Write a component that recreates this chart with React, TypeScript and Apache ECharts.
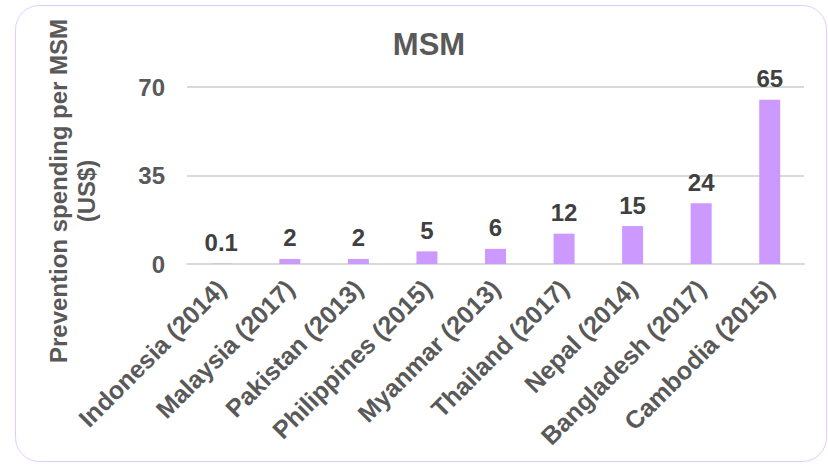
import React, { useEffect, useRef } from "react";
import * as echarts from "echarts";

// Prevention spending per MSM (US$), by country and survey year
const categories = [
  "Indonesia (2014)",
  "Malaysia (2017)",
  "Pakistan (2013)",
  "Philippines (2015)",
  "Myanmar (2013)",
  "Thailand (2017)",
  "Nepal (2014)",
  "Bangladesh (2017)",
  "Cambodia (2015)",
];
const spending = [0.1, 2, 2, 5, 6, 12, 15, 24, 65];
const yTicks = { min: 0, max: 70, interval: 35 };

const FONT = "'Liberation Sans', Arial, sans-serif";
const GREY = "#595959";

export default function App() {
  const ref = useRef<HTMLDivElement>(null);

  useEffect(() => {
    if (!ref.current) return;
    const chart = echarts.init(ref.current, null, { renderer: "svg" });
    chart.setOption({
      animation: false,
      backgroundColor: "#ffffff",
      title: {
        text: "MSM",
        left: 424,
        top: 24,
        textAlign: "center",
        textStyle: { fontFamily: FONT, fontSize: 31, fontWeight: "bold", color: GREY },
      },
      grid: { left: 187, right: 24, top: 87, bottom: 200, containLabel: false },
      xAxis: {
        type: "category",
        data: categories,
        axisLine: { show: true, lineStyle: { color: "#d9d9d9", width: 2 } },
        axisTick: { show: false },
        axisLabel: {
          rotate: 45,
          interval: 0,
          margin: 20,
          fontFamily: FONT,
          fontSize: 25,
          fontWeight: "bold",
          color: GREY,
        },
      },
      yAxis: {
        type: "value",
        min: yTicks.min,
        max: yTicks.max,
        interval: yTicks.interval,
        axisLine: { show: false },
        axisTick: { show: false },
        splitLine: { lineStyle: { color: "#d9d9d9", width: 2 } },
        axisLabel: {
          margin: 22,
          fontFamily: FONT,
          fontSize: 24,
          fontWeight: "bold",
          color: GREY,
        },
      },
      series: [
        {
          type: "bar",
          data: spending,
          barWidth: 21,
          itemStyle: { color: "#cc99ff" },
          label: {
            show: true,
            position: "top",
            distance: 9,
            fontFamily: FONT,
            fontSize: 24,
            fontWeight: "bold",
            color: "#404040",
          },
        },
      ],
      graphic: [
        {
          type: "rect",
          shape: { x: 15.5, y: 5.5, width: 811, height: 456, r: 24 },
          style: { fill: "none", stroke: "#e2ccff", lineWidth: 1 },
          silent: true,
        },
        {
          type: "text",
          x: 72,
          y: 191,
          rotation: Math.PI / 2,
          style: {
            text: "Prevention spending per MSM\n(US$)",
            fontFamily: FONT,
            fontSize: 24,
            fontWeight: "bold",
            fill: GREY,
            align: "center",
            verticalAlign: "middle",
            lineHeight: 28,
          },
        },
      ],
    });
    return () => chart.dispose();
  }, []);

  return (
    <div
      ref={ref}
      style={{ position: "fixed", left: 0, top: 0, width: 828, height: 464 }}
    />
  );
}
